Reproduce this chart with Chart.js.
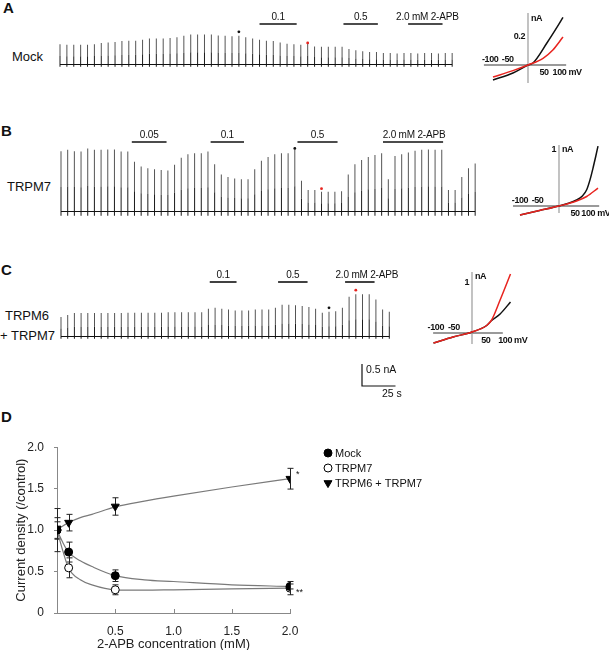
<!DOCTYPE html>
<html>
<head>
<meta charset="utf-8">
<script src="https://cdn.jsdelivr.net/npm/chart.js@4.4.0/dist/chart.umd.min.js"></script>
<style>
    body { margin: 0; background: #fff; }
    #fig { position: relative; width: 609px; height: 650px; overflow: hidden; font-family: "Liberation Sans", Arial, sans-serif; color: #111; }
    #fig canvas { position: absolute; }
    .lbl { position: absolute; font-size: 13px; line-height: 15px; white-space: nowrap; }
    .panel { position: absolute; font-size: 15px; line-height: 16px; font-weight: bold; }
</style>
</head>
<body>
<div id="fig">
    <div class="panel" style="left:3px;top:0px">A</div>
    <div class="panel" style="left:1px;top:123px">B</div>
    <div class="panel" style="left:1px;top:262px">C</div>
    <div class="panel" style="left:1px;top:409px">D</div>

    <div class="lbl" style="left:12px;top:49px">Mock</div>
    <div class="lbl" style="left:7px;top:179px">TRPM7</div>
    <div class="lbl" style="left:5px;top:308px">TRPM6</div>
    <div class="lbl" style="left:0px;top:328px">+ TRPM7</div>

    <canvas id="traceA" width="470" height="80" style="left:0;top:0"></canvas>
    <canvas id="ivA" width="139" height="100" style="left:470px;top:0"></canvas>
    <canvas id="traceB" width="480" height="110" style="left:0;top:110px"></canvas>
    <canvas id="ivB" width="129" height="100" style="left:480px;top:130px"></canvas>
    <canvas id="traceC" width="420" height="160" style="left:0;top:240px"></canvas>
    <canvas id="ivC" width="189" height="110" style="left:420px;top:250px"></canvas>
    <canvas id="doseChart" width="430" height="225" style="left:0;top:430px"></canvas>
</div>

<script>
// ---------- data ----------
const sweepInterval = 5; // s between voltage ramps

// outward current at +100 mV per ramp (nA)
const mockSweeps = [0.45, 0.44, 0.44, 0.44, 0.44, 0.45, 0.48, 0.49, 0.50, 0.52,
    0.53, 0.53, 0.55, 0.58, 0.58, 0.58, 0.59, 0.61, 0.64, 0.67,
    0.67, 0.67, 0.67, 0.65, 0.64, 0.63, 0.64, 0.61, 0.58, 0.55,
    0.53, 0.52, 0.49, 0.46, 0.45, 0.44, 0.48, 0.40, 0.39, 0.39,
    0.39, 0.39, 0.34, 0.31, 0.29, 0.27, 0.27, 0.25, 0.25, 0.24,
    0.25, 0.25, 0.24, 0.25, 0.25, 0.24, 0.25, 0.25];
const trpm7Sweeps = [1.36, 1.39, 1.36, 1.35, 1.42, 1.39, 1.39, 1.40, 1.40, 1.35,
    1.35, 1.12, 1.01, 0.97, 0.95, 0.93, 0.92, 1.05, 1.21, 1.29,
    1.31, 1.31, 1.35, 1.06, 0.83, 0.77, 0.74, 0.72, 0.72, 0.95,
    1.14, 1.23, 1.29, 1.31, 1.31, 1.40, 0.69, 0.48, 0.48, 0.44,
    0.44, 0.44, 0.45, 0.83, 1.06, 1.16, 1.23, 1.27, 1.31, 0.72,
    1.25, 1.29, 1.33, 1.37, 1.39, 1.40, 1.39, 1.39, 0.48, 0.48,
    0.77, 0.97, 1.08];
const m6m7Sweeps = [0.43, 0.48, 0.52, 0.52, 0.52, 0.52, 0.52, 0.52, 0.52, 0.52,
    0.53, 0.53, 0.53, 0.53, 0.53, 0.53, 0.54, 0.54, 0.54, 0.54,
    0.54, 0.54, 0.62, 0.64, 0.62, 0.60, 0.58, 0.58, 0.58, 0.60,
    0.60, 0.60, 0.64, 0.71, 0.71, 0.70, 0.68, 0.66, 0.62, 0.53,
    0.55, 0.56, 0.64, 0.89, 0.95, 0.95, 0.95, 0.83, 0.60, 0.55];
// inward current at -100 mV (nA)
const mockInward = -0.06;
const trpm7Inward = -0.11;
const m6m7Inward = -0.06;

// 2-APB applications (mM, start s, end s)
const mockDrugs = [
    { label: '0.1', from: 145, to: 172 },
    { label: '0.5', from: 206, to: 231 },
    { label: '2.0 mM 2-APB', from: 253, to: 278 }
];
const trpm7Drugs = [
    { label: '0.05', from: 53, to: 79 },
    { label: '0.1', from: 112, to: 137 },
    { label: '0.5', from: 177, to: 207 },
    { label: '2.0 mM 2-APB', from: 241, to: 286 }
];
const m6m7Drugs = [
    { label: '0.1', from: 111, to: 131 },
    { label: '0.5', from: 162, to: 184 },
    { label: '2.0 mM 2-APB', from: 212, to: 234 }
];
// ramps used for the I-V curves (black dot = control, red dot = 2-APB)
const mockMarks = { black: 26, red: 36 };
const trpm7Marks = { black: 35, red: 39 };
const m6m7Marks = { black: 40, red: 44 };

const scaleBarTime = 25;     // s
const scaleBarCurrent = 0.5; // nA

// I-V curves
const ivMockBlackMv = [-100, -43, 0, 14, 54, 83, 100];
const ivMockBlackNa = [-0.107, -0.057, 0, 0.014, 0.157, 0.27, 0.34];
const ivMockRedMv = [-100, -43, 0, 43, 71, 100];
const ivMockRedNa = [-0.086, -0.04, 0, 0.048, 0.107, 0.2];

const ivTrpm7BlackMv = [-100, -50, 0, 20, 45, 60, 71, 80, 88, 94, 100];
const ivTrpm7BlackNa = [-0.16, -0.08, 0, 0.04, 0.107, 0.18, 0.29, 0.48, 0.70, 0.88, 1.07];
const ivTrpm7RedMv = [-100, -50, 0, 45, 71, 100];
const ivTrpm7RedNa = [-0.16, -0.08, 0, 0.09, 0.17, 0.32];

const ivM6m7BlackMv = [-100, -49, 0, 38, 51, 73, 100];
const ivM6m7BlackNa = [-0.2, -0.08, 0.02, 0.15, 0.25, 0.38, 0.62];
const ivM6m7RedMv = [-100, -49, 0, 38, 51, 73, 100];
const ivM6m7RedNa = [-0.2, -0.08, 0.02, 0.15, 0.26, 0.66, 1.18];

// D: dose response
const concentrations = [0, 0.1, 0.5, 2.0];
const mockMean = [1.0, 0.735, 0.45, 0.32];
const mockErr = [0.1, 0.12, 0.07, 0.03];
const trpm7Mean = [1.0, 0.545, 0.28, 0.30];
const trpm7Err = [0.26, 0.12, 0.06, 0.08];
const m6m7Mean = [1.02, 1.09, 1.285, 1.62];
const m6m7Err = [0.13, 0.1, 0.105, 0.125];

const fitConc = [0, 0.05, 0.1, 0.2, 0.3, 0.5, 0.75, 1.0, 1.5, 2.0];
const mockFit = [1.0, 0.85, 0.73, 0.63, 0.56, 0.45, 0.40, 0.38, 0.34, 0.32];
const trpm7Fit = [1.0, 0.75, 0.54, 0.40, 0.34, 0.28, 0.275, 0.28, 0.29, 0.30];
const m6m7Fit = [1.0, 1.05, 1.09, 1.15, 1.19, 1.28, 1.35, 1.41, 1.52, 1.62];

// ---------- helpers ----------
const FONT = '"Liberation Sans", Arial, sans-serif';
Chart.defaults.font.family = FONT;
Chart.defaults.color = '#222';

// value range so that value 0 sits at originPx with pxPerUnit scaling
const xRange = (originPx, pxPerUnit, size) => ({ min: -originPx / pxPerUnit, max: (size - originPx) / pxPerUnit });
const yRange = (originPx, pxPerUnit, size) => ({ min: -(size - originPx) / pxPerUnit, max: originPx / pxPerUnit });

const baseOptions = () => ({
    responsive: false,
    animation: false,
    events: [],
    devicePixelRatio: 1,
    layout: { padding: 0 },
    plugins: { legend: { display: false }, tooltip: { enabled: false } }
});

function traceChart(id, sweeps, inward, drugs, marks, geom) {
    const canvas = document.getElementById(id);
    const times = sweeps.map((_, i) => i * sweepInterval);
    const split = sweeps.map(h => h * 0.4);
    const opts = baseOptions();
    opts.scales = {
        x: { type: 'linear', display: false, offset: false, ...xRange(geom.x0, geom.pxPerSec, canvas.width) },
        y: { display: false, ...yRange(geom.base, geom.pxPerNa, canvas.height) }
    };
    const bar = { barThickness: 1, grouped: false, inflateAmount: 0, borderWidth: 0 };
    new Chart(canvas, {
        type: 'bar',
        data: {
            datasets: [
                { ...bar, data: sweeps.map((h, i) => ({ x: times[i], y: [inward, split[i]] })), backgroundColor: '#1a1a1a' },
                { ...bar, data: sweeps.map((h, i) => ({ x: times[i], y: [split[i], h] })), backgroundColor: '#555' }
            ]
        },
        options: opts,
        plugins: [{
            id: 'traceExtras',
            afterDatasetsDraw(chart) {
                const { ctx, scales: { x, y } } = chart;
                ctx.save();
                // baseline
                const by = Math.round(y.getPixelForValue(0)) + 0.5;
                ctx.strokeStyle = '#111';
                ctx.lineWidth = 1;
                ctx.beginPath();
                ctx.moveTo(x.getPixelForValue(times[0]), by);
                ctx.lineTo(x.getPixelForValue(times[times.length - 1]), by);
                ctx.stroke();
                // drug application bars
                ctx.font = '10px ' + FONT;
                ctx.letterSpacing = '-0.2px';
                ctx.fillStyle = '#111';
                ctx.textAlign = 'center';
                ctx.textBaseline = 'alphabetic';
                drugs.forEach(d => {
                    const x1 = x.getPixelForValue(d.from), x2 = x.getPixelForValue(d.to);
                    ctx.lineWidth = 1.6;
                    ctx.beginPath();
                    ctx.moveTo(x1, geom.drugY);
                    ctx.lineTo(x2, geom.drugY);
                    ctx.stroke();
                    ctx.fillText(d.label, (x1 + x2) / 2 + (d.label.length > 5 ? geom.longLabelShift : 0), geom.drugY - 4);
                });
                ctx.letterSpacing = '0px';
                // marks above the ramps used for I-V
                [['black', '#111'], ['red', '#e8241f']].forEach(([k, col]) => {
                    const i = marks[k];
                    const px = x.getPixelForValue(times[i]);
                    const py = y.getPixelForValue(sweeps[i]) - geom.markOffset[k];
                    ctx.fillStyle = col;
                    ctx.beginPath();
                    ctx.arc(px, py, 1.4, 0, Math.PI * 2);
                    ctx.fill();
                });
                // scale bar
                if (geom.scaleBar) {
                    const sx = geom.scaleBar.x, sy = geom.scaleBar.y;
                    const w = x.getPixelForValue(scaleBarTime) - x.getPixelForValue(0);
                    const h = y.getPixelForValue(0) - y.getPixelForValue(scaleBarCurrent);
                    ctx.strokeStyle = '#111';
                    ctx.lineWidth = 1.2;
                    ctx.beginPath();
                    ctx.moveTo(sx, sy - h);
                    ctx.lineTo(sx, sy);
                    ctx.lineTo(sx + w, sy);
                    ctx.stroke();
                    ctx.fillStyle = '#111';
                    ctx.font = '10.5px ' + FONT;
                    ctx.textAlign = 'left';
                    ctx.textBaseline = 'middle';
                    ctx.fillText(scaleBarCurrent + ' nA', sx + 4, sy - h + 6);
                    ctx.fillText(scaleBarTime + ' s', sx + 20, sy + 8);
                }
                ctx.restore();
            }
        }]
    });
}

function ivChart(id, black, red, geom) {
    const canvas = document.getElementById(id);
    const opts = baseOptions();
    opts.scales = {
        x: { type: 'linear', display: false, ...xRange(geom.ox, geom.pxPerMv, canvas.width) },
        y: { type: 'linear', display: false, ...yRange(geom.oy, geom.pxPerNa, canvas.height) }
    };
    const line = (mv, na, color) => ({
        data: mv.map((v, i) => ({ x: v, y: na[i] })),
        borderColor: color, borderWidth: 1.5, pointRadius: 0,
        cubicInterpolationMode: 'monotone', fill: false
    });
    new Chart(canvas, {
        type: 'line',
        data: { datasets: [line(red.mv, red.na, '#e8241f'), line(black.mv, black.na, '#111')] },
        options: opts,
        plugins: [{
            id: 'ivAxes',
            beforeDatasetsDraw(chart) {
                const { ctx, scales: { x, y } } = chart;
                const ox = x.getPixelForValue(0), oy = y.getPixelForValue(0);
                ctx.save();
                ctx.strokeStyle = '#9a9a9a';
                ctx.lineWidth = 2;
                ctx.beginPath();
                ctx.moveTo(x.getPixelForValue(geom.xAxis[0]), oy);
                ctx.lineTo(x.getPixelForValue(geom.xAxis[1]), oy);
                ctx.stroke();
                ctx.lineWidth = 1.2;
                ctx.beginPath();
                ctx.moveTo(ox, y.getPixelForValue(geom.yAxis[1]));
                ctx.lineTo(ox, y.getPixelForValue(geom.yAxis[0]));
                ctx.stroke();

                // tick labels, each centred where it sits in the original
                ctx.fillStyle = '#111';
                ctx.font = 'bold 9px ' + FONT;
                ctx.letterSpacing = '-0.4px';
                ctx.textAlign = 'center';
                ctx.textBaseline = 'bottom';
                ctx.fillText('-100', x.getPixelForValue(geom.labelAt[0]), oy - 1);
                ctx.fillText('-50', x.getPixelForValue(geom.labelAt[1]), oy - 1);
                ctx.textBaseline = 'top';
                ctx.fillText('50', x.getPixelForValue(geom.labelAt[2]), oy + 3);
                ctx.textAlign = 'left';
                const half = ctx.measureText('100').width / 2;
                ctx.fillText('100 mV', x.getPixelForValue(geom.labelAt[3]) - half, oy + 3);
                ctx.textAlign = 'right';
                ctx.textBaseline = 'middle';
                ctx.fillText(String(geom.yTick), ox - 3, y.getPixelForValue(geom.yTick));
                ctx.textAlign = 'left';
                ctx.fillText('nA', ox + 3, y.getPixelForValue(geom.yAxis[1]) + 5);
                ctx.restore();
            }
        }]
    });
}

// ---------- A, B, C ----------
traceChart('traceA', mockSweeps, mockInward, mockDrugs, mockMarks,
    { x0: 60, pxPerSec: 6.88 / 5, base: 64, pxPerNa: 44, drugY: 24, longLabelShift: 2, markOffset: { black: 4, red: 0 } });
traceChart('traceB', trpm7Sweeps, trpm7Inward, trpm7Drugs, trpm7Marks,
    { x0: 61, pxPerSec: 6.68 / 5, base: 101, pxPerNa: 44, drugY: 32, longLabelShift: 1, markOffset: { black: 1, red: 3 } });
traceChart('traceC', m6m7Sweeps, m6m7Inward, m6m7Drugs, m6m7Marks,
    { x0: 61, pxPerSec: 6.70 / 5, base: 96, pxPerNa: 44, drugY: 42, longLabelShift: 7, markOffset: { black: 4, red: 4 }, scaleBar: { x: 362, y: 146 } });

ivChart('ivA', { mv: ivMockBlackMv, na: ivMockBlackNa }, { mv: ivMockRedMv, na: ivMockRedNa },
    { ox: 58, oy: 65, pxPerMv: 0.35, pxPerNa: 140, xAxis: [-126, 109], yAxis: [-0.129, 0.371], yTick: 0.2, labelAt: [-108, -58, 46, 90] });
ivChart('ivB', { mv: ivTrpm7BlackMv, na: ivTrpm7BlackNa }, { mv: ivTrpm7RedMv, na: ivTrpm7RedNa },
    { ox: 79, oy: 76, pxPerMv: 0.39, pxPerNa: 56, xAxis: [-118, 103], yAxis: [-0.125, 1.09], yTick: 1, labelAt: [-100, -55, 41, 75] });
ivChart('ivC', { mv: ivM6m7BlackMv, na: ivM6m7BlackNa }, { mv: ivM6m7RedMv, na: ivM6m7RedNa },
    { ox: 52, oy: 83, pxPerMv: 0.385, pxPerNa: 50, xAxis: [-101, 80], yAxis: [-0.22, 1.22], yTick: 1, labelAt: [-94, -47, 36, 86] });

// ---------- D ----------
const seriesD = [
    { label: 'Mock', mean: mockMean, err: mockErr, fit: mockFit, style: { pointStyle: 'circle', radius: 4, rotation: 0 }, fill: '#000' },
    { label: 'TRPM7', mean: trpm7Mean, err: trpm7Err, fit: trpm7Fit, style: { pointStyle: 'circle', radius: 4, rotation: 0 }, fill: '#fff' },
    { label: 'TRPM6 + TRPM7', mean: m6m7Mean, err: m6m7Err, fit: m6m7Fit, style: { pointStyle: 'triangle', radius: 4.6, rotation: 180 }, fill: '#000' }
];

const doseDatasets = [];
seriesD.forEach(s => {
    doseDatasets.push({
        data: fitConc.map((c, i) => ({ x: c, y: s.fit[i] })),
        borderColor: '#7a7a7a', borderWidth: 1.2, pointRadius: 0,
        cubicInterpolationMode: 'monotone', order: 2
    });
});
seriesD.forEach(s => {
    doseDatasets.push({
        label: s.label,
        data: concentrations.map((c, i) => ({ x: c, y: s.mean[i] })),
        showLine: false, order: 1,
        pointStyle: s.style.pointStyle, pointRadius: s.style.radius, pointRotation: s.style.rotation,
        pointBackgroundColor: s.fill, pointBorderColor: '#000', pointBorderWidth: 1
    });
});

const doseOpts = baseOptions();
doseOpts.layout = { padding: { left: 0, right: 140, top: 15, bottom: 0 } };
doseOpts.scales = {
    x: {
        type: 'linear', min: 0, max: 2.0,
        afterFit(scale) { scale.height = 42; },
        grid: { display: false, drawTicks: false },
        border: { display: true, color: '#888', width: 1 },
        ticks: { stepSize: 0.5, padding: 11, font: { size: 12 }, callback: v => (v === 0 ? '' : v.toFixed(1)) },
        title: { display: true, text: '2-APB concentration (mM)', font: { size: 13 }, padding: { top: 0, bottom: 3 } }
    },
    y: {
        type: 'linear', min: 0, max: 2.0,
        afterFit(scale) { scale.width = 57; },
        grid: { display: true, drawOnChartArea: false, drawTicks: true, tickLength: 3, color: '#888' },
        border: { display: true, color: '#888', width: 1 },
        ticks: { stepSize: 0.5, padding: 10, font: { size: 12 }, callback: v => (v === 0 ? '0' : v.toFixed(1)) },
        title: { display: true, text: 'Current density (/control)', font: { size: 13 }, padding: { top: 14, bottom: 0 } }
    }
};

new Chart(document.getElementById('doseChart'), {
    type: 'line',
    data: { datasets: doseDatasets },
    options: doseOpts,
    plugins: [{
        id: 'errorBarsAndLegend',
        beforeDatasetsDraw(chart) {
            const { ctx, scales: { x, y } } = chart;
            ctx.save();
            ctx.strokeStyle = '#222';
            ctx.lineWidth = 1;
            seriesD.forEach(s => {
                concentrations.forEach((c, i) => {
                    const px = Math.round(x.getPixelForValue(c)) + 0.5;
                    const top = y.getPixelForValue(s.mean[i] + s.err[i]);
                    const bot = y.getPixelForValue(s.mean[i] - s.err[i]);
                    ctx.beginPath();
                    ctx.moveTo(px, top); ctx.lineTo(px, bot);
                    ctx.moveTo(px - 3, top); ctx.lineTo(px + 3, top);
                    ctx.moveTo(px - 3, bot); ctx.lineTo(px + 3, bot);
                    ctx.stroke();
                });
            });
            // inward x tick marks
            ctx.strokeStyle = '#888';
            const axisY = chart.chartArea.bottom;
            [0.5, 1.0, 1.5, 2.0].forEach(v => {
                const px = Math.round(x.getPixelForValue(v)) + 0.5;
                ctx.beginPath();
                ctx.moveTo(px, axisY);
                ctx.lineTo(px, axisY - 4);
                ctx.stroke();
            });
            ctx.restore();
        },
        afterDatasetsDraw(chart) {
            const { ctx, scales: { x, y } } = chart;
            ctx.save();
            ctx.fillStyle = '#111';
            ctx.font = '9px ' + FONT;
            ctx.textAlign = 'left';
            ctx.textBaseline = 'middle';
            const last = concentrations.length - 1;
            ctx.fillText('*', x.getPixelForValue(concentrations[last]) + 6, y.getPixelForValue(m6m7Mean[last]) - 4);
            ctx.fillText('**', x.getPixelForValue(concentrations[last]) + 6, y.getPixelForValue(trpm7Mean[last]) + 4);
            // legend
            ctx.font = '11px ' + FONT;
            seriesD.forEach((s, i) => {
                const ly = 23 + i * 15;
                ctx.fillStyle = s.fill;
                ctx.strokeStyle = '#000';
                ctx.lineWidth = 1;
                Chart.helpers.drawPoint(ctx, { pointStyle: s.style.pointStyle, radius: s.style.radius, rotation: s.style.rotation, borderWidth: 1 }, 328, ly);
                ctx.fillStyle = '#111';
                ctx.fillText(s.label, 335, ly + 0.5);
            });
            ctx.restore();
        }
    }]
});
</script>
</body>
</html>
